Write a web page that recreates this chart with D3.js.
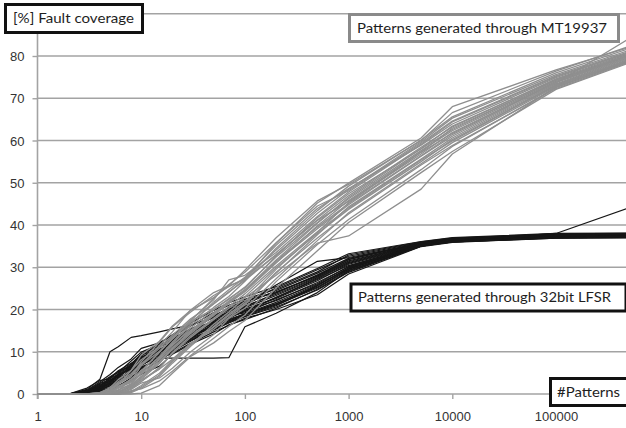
<!DOCTYPE html>
<html>
<head>
<meta charset="utf-8">
<script src="https://cdn.jsdelivr.net/npm/d3@7"></script>
<style>
  html, body { margin: 0; padding: 0; background: #fff; }
  svg { display: block; font-family: Lato, "Open Sans", sans-serif; }
</style>
</head>
<body>
<svg id="chart" width="626" height="428"></svg>
<script>
// Number of applied test patterns at which fault coverage was sampled
const patternCounts = [1, 2, 3, 4, 5, 6, 8, 10, 15, 20, 30, 50, 70, 100, 200, 500, 1000, 5000, 10000, 100000, 500000];

// Fault coverage [%] per run, patterns from a 32-bit LFSR
const lfsrCoverage = [
  [0,0,0.4,2.1,3.0,4.2,6.5,8.8,10.2,12.4,14.1,16.9,18.2,19.5,22.8,27.1,30.4,35.2,36.1,37.0,37.1],
  [0,0,1.1,3.5,10.0,11.2,13.4,13.8,14.7,15.4,16.3,18.0,19.4,21.2,24.5,28.6,32.1,35.6,36.4,37.4,37.5],
  [0,0,0,1.2,2.4,2.9,4.8,6.1,8.5,8.5,8.5,8.5,8.6,15.9,19.1,24.0,29.2,35.0,36.2,37.2,37.3],
  [0,0,0.2,0.9,2.2,3.6,5.3,7.2,9.8,11.6,13.7,16.1,17.5,18.9,21.4,25.3,29.5,35.3,36.3,37.3,37.4],
  [0,0,0.6,1.8,3.9,5.1,7.8,9.9,11.7,12.8,14.9,17.2,18.8,20.6,23.9,28.2,31.8,35.7,36.6,37.6,37.7],
  [0,0,0,0.7,1.5,2.8,4.1,5.3,7.9,10.1,12.5,15.6,17.9,19.8,22.1,26.4,30.1,35.1,36.0,37.0,37.0],
  [0,0,0.3,2.5,3.3,4.4,6.0,8.2,10.9,13.3,15.2,18.6,20.1,21.7,25.1,29.4,32.6,35.9,36.8,37.8,37.9],
  [0,0,0,0.5,1.1,2.0,3.2,4.7,6.6,9.4,11.8,14.2,16.4,17.6,20.3,24.8,29.0,35.0,36.0,36.9,37.0],
  [0,0,0.9,2.9,4.6,6.3,8.3,10.8,12.1,13.9,16.4,18.1,19.9,21.9,24.2,27.9,31.5,35.6,36.5,37.5,37.6],
  [0,0,0.1,1.4,2.7,3.3,5.6,7.7,9.1,11.0,13.2,15.3,17.0,18.4,20.9,25.6,29.8,35.2,36.2,37.2,37.3],
  [0,0,0.4,1.6,3.1,4.7,6.8,9.3,10.5,12.2,14.4,17.5,19.1,20.4,23.3,27.5,31.1,35.5,36.4,37.4,37.5],
  [0,0,0,0.3,0.8,1.9,3.8,5.9,8.9,10.7,13.1,16.6,18.5,20.1,22.6,26.8,30.7,35.3,36.3,37.3,37.4],
  [0,0,1.4,3.2,3.6,5.5,7.3,8.6,11.2,13.6,16.1,19.3,21.0,22.4,24.8,28.9,32.9,36.0,36.9,37.9,38.0],
  [0,0,0.2,1.0,1.9,3.0,4.5,6.4,8.1,9.7,12.0,14.7,16.2,17.9,20.0,23.5,28.4,34.9,35.9,36.9,37.0],
  [0,0,0.7,2.3,2.9,4.0,6.2,8.0,10.0,12.9,15.5,17.0,18.6,19.2,22.3,26.1,30.2,35.4,36.3,37.3,37.3],
  [0,0,0,1.1,2.6,4.9,7.1,9.5,11.4,12.1,13.5,15.9,17.7,19.0,21.7,25.9,29.6,35.2,36.2,37.1,37.2],
  [0,0,0.5,1.7,3.4,3.9,5.0,6.9,9.6,12.5,14.6,17.4,19.6,21.4,25.8,31.4,32.3,35.7,36.6,37.6,37.6],
  [0,0,0.2,0.8,2.0,3.4,5.9,7.5,10.6,11.8,13.9,16.3,18.0,19.7,22.9,27.3,30.9,35.4,36.4,38.0,44.0],
  [0,0,0.8,2.6,4.1,5.3,6.7,8.4,10.3,12.6,15.0,18.3,20.5,22.0,24.0,28.0,31.9,35.8,36.7,37.7,37.8],
  [0,0,0,0.6,1.4,2.4,4.3,6.7,9.3,11.3,13.4,16.0,17.3,18.7,21.1,25.1,29.3,35.1,36.1,37.1,37.1],
  [0,0,0.3,1.3,2.5,4.5,6.4,7.9,9.9,11.5,14.0,16.8,18.9,20.8,23.6,27.7,31.3,35.6,36.5,37.5,37.6],
  [0,0,0.6,2.0,3.7,4.6,5.8,7.0,8.8,10.9,12.7,15.1,16.8,18.3,20.6,24.6,28.8,35.0,36.0,37.0,37.1],
  [0,0,0.1,1.5,2.8,3.7,6.9,9.0,11.9,14.0,16.8,19.8,21.6,23.0,25.4,29.7,33.2,36.1,37.0,38.0,38.1],
  [0,0,0.4,1.9,2.3,3.1,4.9,6.3,8.3,10.4,12.9,15.4,17.1,18.8,21.3,25.7,29.9,35.3,36.2,37.2,37.3]
];

// Fault coverage [%] per run, patterns from the MT19937 generator
const mtCoverage = [
  [0,0,0,0,0,0.3,1.8,3.5,7.2,10.8,14.6,18.9,21.8,24.5,31.2,39.1,44.8,56.3,61.0,73.4,79.6],
  [0,0,0,0,0.6,1.5,3.1,6.7,11.5,14.7,19.9,24.0,25.6,27.1,33.0,41.2,46.9,58.4,63.2,74.6,80.5],
  [0,0,0,0,0,0,0.8,1.2,3.1,5.4,9.1,13.2,16.0,18.7,26.6,35.4,41.3,53.1,58.6,72.5,78.8],
  [0,0,0,0.4,1.2,2.9,4.8,7.1,10.8,13.5,17.2,20.1,22.4,25.3,32.4,40.6,46.2,57.6,62.3,74.0,80.1],
  [0,0,0,0,0,0.7,3.6,5.4,9.9,13.1,17.3,22.7,25.9,28.8,35.8,44.5,48.1,59.4,64.6,75.3,81.0],
  [0,0,0,0,0,0,0,0.2,2.0,4.9,8.9,12.1,14.8,17.4,25.1,33.9,40.6,52.4,57.4,72.1,78.3],
  [0,0,0,0,0.3,1.0,2.2,4.0,8.4,12.0,16.2,20.5,23.1,26.7,34.5,43.4,49.2,60.1,65.6,76.0,81.7],
  [0,0,0,0,0,0.2,1.3,2.9,6.3,9.6,13.4,17.6,20.3,23.0,29.9,38.0,43.7,55.0,60.2,73.0,79.2],
  [0,0,0,0.2,0.9,2.1,5.6,8.1,11.1,13.9,17.8,21.4,24.2,26.9,32.9,41.1,45.6,56.8,61.9,73.8,79.9],
  [0,0,0,0,0,0,0.5,1.7,4.5,7.7,11.6,16.5,19.4,22.8,28.1,35.7,37.4,48.5,56.8,72.7,78.6],
  [0,0,0,0,0.4,1.3,2.9,5.0,8.9,12.3,16.6,21.8,24.7,27.6,35.2,43.9,48.6,58.9,63.9,74.9,80.7],
  [0,0,0,0,0,0.5,1.6,3.3,5.9,8.2,12.0,15.3,18.1,21.1,28.6,37.7,44.3,55.6,60.6,73.2,79.4],
  [0,0,0,0.3,1.5,3.4,5.6,9.2,12.5,16.1,19.8,22.8,25.6,29.3,37.0,45.7,49.6,60.0,66.6,76.4,82.2],
  [0,0,0,0,0,0,1.1,2.6,3.8,6.1,10.0,14.1,17.9,20.3,27.3,36.3,42.9,54.5,59.5,72.8,78.9],
  [0,0,0,0,0.2,0.9,2.4,4.7,8.1,11.4,15.6,19.9,22.6,25.1,32.7,41.7,47.4,58.0,62.6,74.3,80.3],
  [0,0,0,0,0,0.4,1.9,3.8,7.5,10.5,14.3,18.6,21.4,24.4,31.5,39.5,45.1,56.4,61.4,73.6,84.0],
  [0,0,0,0,0.7,1.8,3.4,5.4,9.9,13.2,17.5,22.3,27.0,28.1,33.5,42.0,47.8,59.1,64.4,75.1,80.8],
  [0,0,0,0,0,0,0.6,2.0,4.9,8.0,11.9,15.8,18.6,21.4,28.8,36.9,42.6,54.2,58.8,72.3,78.5],
  [0,0,0,0.1,0.8,2.4,4.1,7.6,12.3,15.9,19.4,23.3,25.4,27.4,34.1,42.8,48.4,59.7,65.3,75.6,81.3],
  [0,0,0,0,0,0.1,1.4,3.0,6.0,9.8,13.8,17.9,20.7,23.7,30.3,38.4,44.0,55.4,59.9,73.1,79.0],
  [0,0,0,0,0.5,1.6,2.7,4.9,8.7,11.7,15.1,19.2,22.0,24.7,31.7,40.4,46.5,58.1,63.4,74.4,80.2],
  [0,0,0,0,0,0,0.3,1.4,4.2,7.3,11.3,16.0,18.9,21.9,29.5,38.3,45.3,57.2,61.7,73.7,79.7],
  [0,0,0,0.2,1.0,2.6,4.4,6.8,10.1,13.0,17.0,21.3,24.0,27.2,35.7,45.2,49.9,60.6,68.0,76.7,82.0],
  [0,0,0,0,0.1,0.6,2.1,4.2,7.7,10.9,14.9,19.0,21.6,24.2,31.0,39.8,45.8,57.3,62.9,74.2,80.0]
];

const yTicks = [0, 10, 20, 30, 40, 50, 60, 70, 80, 90];
const xTicks = [1, 10, 100, 1000, 10000, 100000];

const svg = d3.select("#chart");
const W = 626;

const x = d3.scaleLog().domain([1, 100000]).range([37.5, 556]);
const y = d3.scaleLinear().domain([0, 90]).range([394, 13.75]);

const gridColor = "#a3a3a3";

// horizontal gridlines
svg.append("g")
  .selectAll("line")
  .data(yTicks.filter(d => d > 0))
  .join("line")
  .attr("x1", x(1)).attr("x2", W)
  .attr("y1", d => y(d)).attr("y2", d => y(d))
  .attr("stroke", gridColor).attr("stroke-width", 1.6);

// y axis
const yAxis = svg.append("g")
  .attr("transform", `translate(${x(1)},0)`)
  .call(d3.axisLeft(y).tickValues(yTicks.filter(d => d < 90)).tickSize(5).tickPadding(8).tickFormat(d3.format("d")));
yAxis.select(".domain").remove();
yAxis.append("line")
  .attr("x1", 0).attr("x2", 0).attr("y1", 33).attr("y2", 399)
  .attr("stroke", gridColor).attr("stroke-width", 1.6);
yAxis.selectAll(".tick line").attr("stroke", gridColor).attr("stroke-width", 1.4);
yAxis.selectAll(".tick text").attr("fill", "#333").attr("font-size", 13).attr("dy", "0.35em");

// x axis
const xAxis = svg.append("g")
  .attr("transform", `translate(0,${y(0)})`)
  .call(d3.axisBottom(x).tickValues(xTicks).tickSize(5).tickPadding(10).tickFormat(d3.format("d")));
xAxis.select(".domain").remove();
xAxis.append("line")
  .attr("x1", x(1)).attr("x2", W).attr("y1", 0).attr("y2", 0)
  .attr("stroke", gridColor).attr("stroke-width", 1.6);
xAxis.selectAll(".tick line").attr("stroke", gridColor).attr("stroke-width", 1.4);
xAxis.selectAll(".tick text").attr("fill", "#333").attr("font-size", 13).attr("dy", "0.9em");

// coverage curves
const line = d3.line()
  .x((d, i) => x(patternCounts[i]))
  .y(d => y(d));

svg.append("g")
  .selectAll("path")
  .data(lfsrCoverage)
  .join("path")
  .attr("d", line)
  .attr("fill", "none")
  .attr("stroke", "#161616")
  .attr("stroke-width", 1.2)
  .attr("stroke-linejoin", "round");

svg.append("g")
  .selectAll("path")
  .data(mtCoverage)
  .join("path")
  .attr("d", line)
  .attr("fill", "none")
  .attr("stroke", "#8f8f8f")
  .attr("stroke-width", 1.3)
  .attr("stroke-linejoin", "round");

// labelled boxes
function labelBox(x0, y0, w, h, text, stroke, tx, tlen) {
  const g = svg.append("g");
  g.append("rect")
    .attr("x", x0).attr("y", y0).attr("width", w).attr("height", h)
    .attr("fill", "#fff").attr("stroke", stroke).attr("stroke-width", 3);
  g.append("text")
    .attr("x", tx).attr("y", y0 + h / 2).attr("dy", "0.36em")
    .attr("font-size", 13.5).attr("fill", "#1e1e1e")
    .attr("textLength", tlen).attr("lengthAdjust", "spacingAndGlyphs")
    .text(text);
}

labelBox(5.5, 4.5, 137, 28, "[%] Fault coverage", "#111", 13, 121);
labelBox(349.5, 14.5, 269, 27, "Patterns generated through MT19937", "#8a8a8a", 357, 250);
labelBox(351, 284, 275, 27, "Patterns generated through 32bit LFSR", "#111", 358, 253);
labelBox(550.5, 378.5, 78, 27, "#Patterns", "#111", 557, 63);
</script>
</body>
</html>
